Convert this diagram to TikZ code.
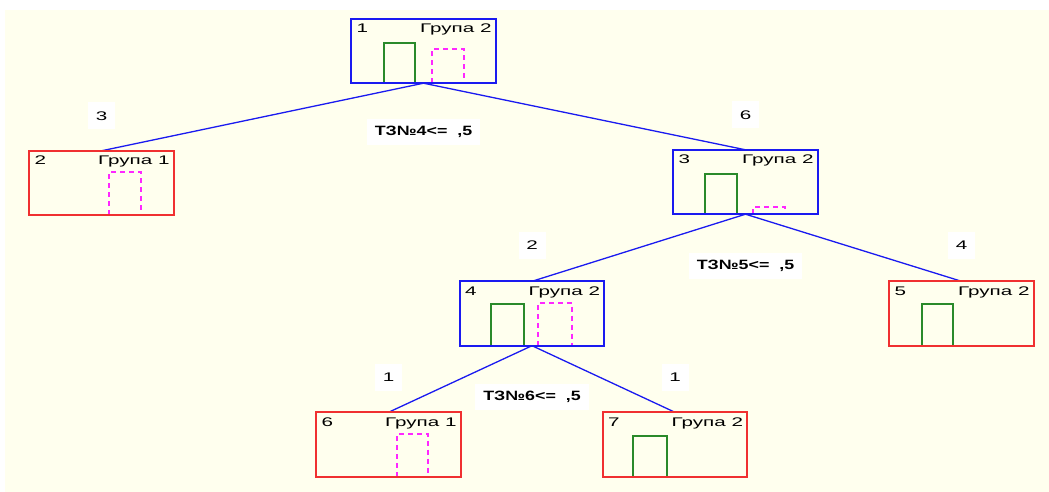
\documentclass[tikz,border=0pt]{standalone}
\usepackage{fontspec}
\setmainfont{Liberation Sans}
\newfontfamily\hdrfont[FakeStretch=1.65]{Liberation Sans}
\newfontfamily\cndfont[FakeStretch=1.32]{Liberation Sans}
\usetikzlibrary{calc}
\definecolor{cream}{RGB}{255,255,238}
\definecolor{tblue}{RGB}{26,26,240}
\definecolor{tred}{RGB}{240,48,48}
\definecolor{tgreen}{RGB}{42,138,42}
\definecolor{tmag}{RGB}{255,40,255}
\begin{document}
\begin{tikzpicture}[x=1pt,y=-1pt,
  treebox/.style={minimum width=144pt, minimum height=64pt, inner sep=0pt},
  bluebox/.style={treebox},
  redbox/.style={treebox},
  outline/.style={line width=1.7pt},
  hdrtext/.style={font=\hdrfont\fontsize{12.5}{14}\selectfont, inner sep=0pt, text=black},
  edgeline/.style={draw=tblue, line width=1.3pt},
  numlab/.style={fill=white, font=\hdrfont\fontsize{12.5}{14}\selectfont, minimum width=27pt, minimum height=27pt, inner sep=0pt, text=black},
  condlab/.style={fill=white, font=\cndfont\bfseries\fontsize{13.5}{15}\selectfont, inner xsep=8pt, minimum height=26pt, inner ysep=0pt, text=black},
  gbar/.style={draw=tgreen, line width=2pt},
  mbar/.style={draw=tmag, line width=2pt, dash pattern=on 5pt off 4pt}
]
\useasboundingbox (0,0) rectangle (1049,492);
\fill[white] (0,0) rectangle (1049,492);
\fill[cream] (5,10) rectangle (1049,492);

% boxes
\node[bluebox] (n1) at (423.5,51) {};
\node[redbox]  (n2) at (101.5,183) {};
\node[bluebox] (n3) at (745.5,182) {};
\node[bluebox] (n4) at (532,313.5) {};
\node[redbox]  (n5) at (961.5,313.5) {};
\node[redbox]  (n6) at (388.5,444.5) {};
\node[redbox]  (n7) at (675,444.5) {};

% connectors
\draw[edgeline] (n1.south) -- (n2.north);
\draw[edgeline] (n1.south) -- (n3.north);
\draw[edgeline] (n3.south) -- (n4.north);
\draw[edgeline] (n3.south) -- (n5.north);
\draw[edgeline] (n4.south) -- (n6.north);
\draw[edgeline] (n4.south) -- (n7.north);

% headers
\foreach \n/\num/\grp in {n1/1/2, n2/2/1, n3/3/2, n4/4/2, n5/5/2, n6/6/1, n7/7/2}{
  \node[hdrtext, anchor=base west] (\n a) at ($(\n.north west)+(5,14)$) {\num};
  \node[hdrtext, anchor=base east] (\n b) at ($(\n.north east)+(-4,14)$) {Група \grp};
}

% bars
\draw[gbar] ($(n1.south west)+(33,0)$) -- ++(0,-40) -- ++(31,0) -- ++(0,40);
\draw[mbar] ($(n1.south west)+(81,0)$) -- ++(0,-34) -- ++(32,0) -- ++(0,34);
\draw[mbar] ($(n2.south west)+(80,0)$) -- ++(0,-43) -- ++(32,0) -- ++(0,43);
\draw[gbar] ($(n3.south west)+(32,0)$) -- ++(0,-40) -- ++(32,0) -- ++(0,40);
\draw[mbar] ($(n3.south west)+(80,0)$) -- ++(0,-7) -- ++(32,0) -- ++(0,7);
\draw[gbar] ($(n4.south west)+(31,0)$) -- ++(0,-42) -- ++(33,0) -- ++(0,42);
\draw[mbar] ($(n4.south west)+(78,0)$) -- ++(0,-43) -- ++(34,0) -- ++(0,43);
\draw[gbar] ($(n5.south west)+(33,0)$) -- ++(0,-42) -- ++(31,0) -- ++(0,42);
\draw[mbar] ($(n6.south west)+(81,0)$) -- ++(0,-43) -- ++(31,0) -- ++(0,43);
\draw[gbar] ($(n7.south west)+(30,0)$) -- ++(0,-41) -- ++(34,0) -- ++(0,41);

% box outlines
\foreach \n/\c in {n1/tblue, n2/tred, n3/tblue, n4/tblue, n5/tred, n6/tred, n7/tred}{
  \draw[\c, outline] (\n.south west) rectangle (\n.north east);
}

% edge counts
\node[numlab] (c2) at ($(n2.north)+(0,-35)$) {3};
\node[numlab] (c3) at ($(n3.north)+(0,-35)$) {6};
\node[numlab] (c4) at ($(n4.north)+(0,-36)$) {2};
\node[numlab] (c5) at ($(n5.north)+(0,-36)$) {4};
\node[numlab] (c6) at ($(n6.north)+(0,-35)$) {1};
\node[numlab] (c7) at ($(n7.north)+(0,-35)$) {1};

% split conditions
\node[condlab] (s1) at ($(n1.south)+(0,49)$) {ТЗ№4<=\ \ ,5};
\node[condlab] (s3) at ($(n3.south)+(0,52)$) {ТЗ№5<=\ \ ,5};
\node[condlab] (s4) at ($(n4.south)+(0,51)$) {ТЗ№6<=\ \ ,5};
\end{tikzpicture}
\end{document}
